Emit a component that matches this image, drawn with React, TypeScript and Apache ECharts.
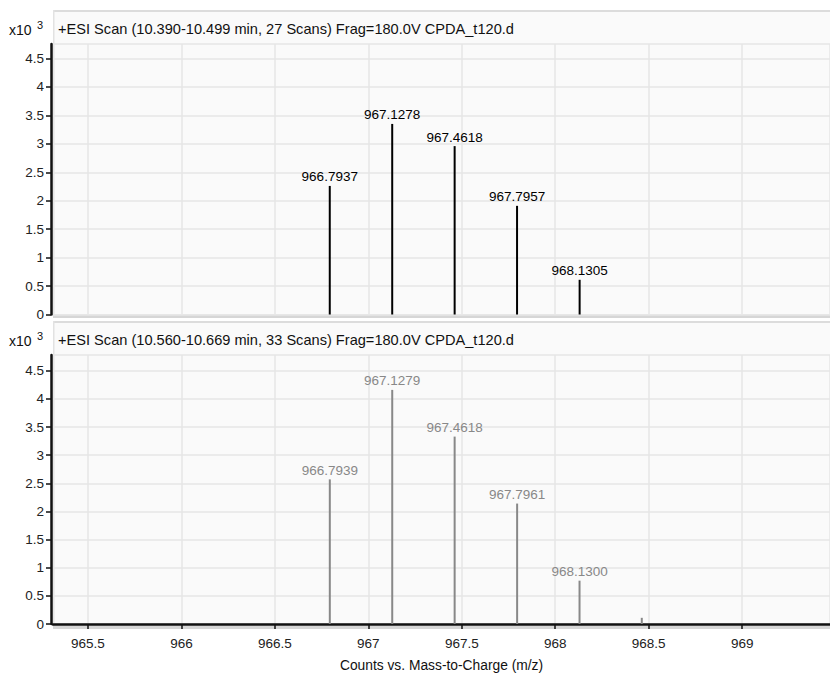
import React, { useEffect, useRef } from "react";
import * as echarts from "echarts";

// Top scan: m/z and intensity (x10^3)
const topMz = [966.7937, 967.1278, 967.4618, 967.7957, 968.1305];
const topIntensity = [2.26, 3.35, 2.96, 1.91, 0.61];
const topLabeled = [true, true, true, true, true];

// Bottom scan
const bottomMz = [966.7939, 967.1279, 967.4618, 967.7961, 968.13, 968.463];
const bottomIntensity = [2.57, 4.16, 3.33, 2.14, 0.77, 0.11];
const bottomLabeled = [true, true, true, true, true, false];

const topTitle = "+ESI Scan (10.390-10.499 min, 27 Scans) Frag=180.0V CPDA_t120.d";
const bottomTitle = "+ESI Scan (10.560-10.669 min, 33 Scans) Frag=180.0V CPDA_t120.d";
const xAxisName = "Counts vs. Mass-to-Charge (m/z)";

const FONT = "Liberation Sans, Arial, Helvetica, sans-serif";

function peakSeries(gridIndex: number, mz: number[], vals: number[], labeled: boolean[], color: string) {
  return {
    type: "custom",
    xAxisIndex: gridIndex,
    yAxisIndex: gridIndex,
    data: mz.map((m, i) => [m, vals[i], labeled[i] ? 1 : 0]),
    renderItem: (params: any, api: any) => {
      const x = api.value(0);
      const y = api.value(1);
      const lab = api.value(2);
      const top = api.coord([x, y]);
      const base = api.coord([x, 0]);
      const children: any[] = [
        {
          type: "line",
          shape: { x1: top[0], y1: top[1], x2: base[0], y2: base[1] },
          style: { stroke: color, lineWidth: 2 },
        },
      ];
      if (lab) {
        children.push({
          type: "text",
          x: top[0],
          y: top[1] - 2,
          style: {
            text: x.toFixed(4),
            fill: color,
            font: `13.5px ${FONT}`,
            align: "center",
            verticalAlign: "bottom",
          },
        });
      }
      return { type: "group", children };
    },
  };
}

function panelGraphics(y0: number, y1: number, title: string) {
  return [
    { type: "rect", z: -10, shape: { x: 53, y: y0, width: 777, height: y1 - y0 }, style: { fill: "#fafafa" } },
    { type: "rect", z: -9, shape: { x: 53, y: y0, width: 777, height: 2 }, style: { fill: "#dcdcdc" } },
    { type: "rect", z: -9, shape: { x: 53, y: y0, width: 1.5, height: y1 - y0 }, style: { fill: "#e2e2e2" } },
    { type: "rect", z: -9, shape: { x: 53, y: y1, width: 777, height: 3.5 }, style: { fill: "#d6d6d6" } },
    {
      type: "text",
      x: 58,
      y: y0 + 18.5,
      style: { text: title, fill: "#111", font: `14.6px ${FONT}`, verticalAlign: "middle" },
    },
    {
      type: "text",
      x: 9,
      y: y0 + 20,
      style: { text: "x10", fill: "#111", font: `14px ${FONT}`, verticalAlign: "middle" },
    },
    {
      type: "text",
      x: 37,
      y: y0 + 15,
      style: { text: "3", fill: "#111", font: `11px ${FONT}`, verticalAlign: "middle" },
    },
  ];
}

export default function App() {
  const ref = useRef<HTMLDivElement>(null);
  useEffect(() => {
    if (!ref.current) return;
    const chart = echarts.init(ref.current, null, { renderer: "svg" });
    const xCommon = {
      type: "value",
      min: 965.313,
      max: 969.47,
      minInterval: 0.5,
      maxInterval: 0.5,
      splitNumber: 8,
      splitLine: { show: true, lineStyle: { color: "#e6e6e6", width: 1.5 } },
    };
    const yCommon = {
      type: "value",
      min: 0,
      max: 4.75,
      interval: 0.5,
      offset: 2,
      axisLine: { show: true, lineStyle: { color: "#111", width: 2.5 } },
      axisTick: { show: true, length: 5, lineStyle: { color: "#111", width: 1.5 } },
      axisLabel: {
        color: "#222",
        fontSize: 13.5,
        fontFamily: FONT,
        margin: 7,
        showMaxLabel: false,
      },
      splitLine: { show: true, lineStyle: { color: "#e6e6e6", width: 1.5 } },
    };
    chart.setOption({
      animation: false,
      backgroundColor: "#ffffff",
      grid: [
        { left: 53, top: 44, width: 777, height: 270.5 },
        { left: 53, top: 355, width: 777, height: 270.5 },
      ],
      xAxis: [
        {
          ...xCommon,
          gridIndex: 0,
          axisLine: { show: false },
          axisTick: { show: false },
          axisLabel: { show: false },
        },
        {
          ...xCommon,
          gridIndex: 1,
          offset: 4,
          axisLine: { show: true, lineStyle: { color: "#111", width: 2.5 } },
          axisTick: { show: true, length: 5, lineStyle: { color: "#111", width: 1.5 } },
          axisLabel: {
            color: "#222",
            fontSize: 13.5,
            fontFamily: FONT,
            margin: 8,
            showMinLabel: false,
            showMaxLabel: false,
          },
          name: xAxisName,
          nameLocation: "middle",
          nameGap: 30,
          nameTextStyle: { color: "#111", fontSize: 13.8, fontFamily: FONT },
        },
      ],
      yAxis: [
        { ...yCommon, gridIndex: 0, max: 4.755 },
        { ...yCommon, gridIndex: 1, max: 4.78 },
      ],
      graphic: [...panelGraphics(10, 314.5, topTitle), ...panelGraphics(321, 625.5, bottomTitle)],
      series: [
        peakSeries(0, topMz, topIntensity, topLabeled, "#000000"),
        peakSeries(1, bottomMz, bottomIntensity, bottomLabeled, "#888888"),
      ],
    });
    return () => chart.dispose();
  }, []);
  return <div ref={ref} style={{ width: 830, height: 673, position: "absolute", left: 0, top: 0 }} />;
}
